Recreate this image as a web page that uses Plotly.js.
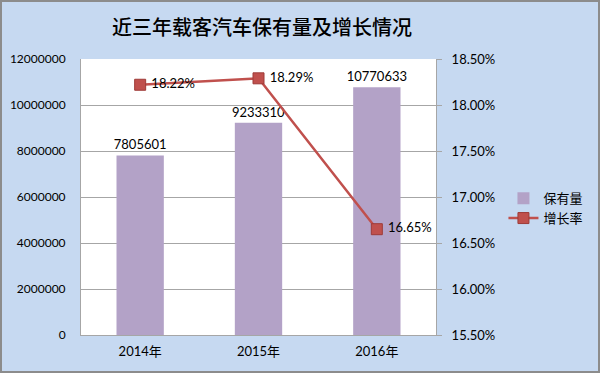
<!DOCTYPE html>
<html><head><meta charset="utf-8">
<script src="https://cdn.plot.ly/plotly-3.0.1.min.js"></script>
<style>body{margin:0;padding:0;} #wrap{position:relative;width:600px;height:373px;} #chart{width:600px;height:373px;} #border{position:absolute;left:0;top:0;width:596px;height:369px;border:2px solid #8c8c8c;pointer-events:none;}</style>
</head><body>
<div id="wrap"><div id="chart"></div><div id="border"></div></div>
<script>
const categories = ['2014年', '2015年', '2016年'];
const holdings = [7805601, 9233310, 10770633];
const growthRate = [18.22, 18.29, 16.65];
const leftTicks = [0, 2000000, 4000000, 6000000, 8000000, 10000000, 12000000];
const rightTicks = [15.5, 16.0, 16.5, 17.0, 17.5, 18.0, 18.5];

const fontFam = 'Lato, "Noto Sans CJK SC", sans-serif';
const bar = {
  type: 'bar', name: '保有量', x: categories, y: holdings,
  marker: {color: '#b3a2c7'}, width: 0.4,
  text: holdings.map(String), textposition: 'outside', cliponaxis: false, constraintext: 'none',
  textfont: {family: fontFam, size: 13, color: '#000'}
};
const line = {
  type: 'scatter', mode: 'lines+markers+text', name: '增长率', x: categories, y: growthRate, yaxis: 'y2',
  line: {color: '#c0504d', width: 2.5},
  marker: {symbol: 'square', size: 11, color: '#c0504d', line: {color: '#9e3b38', width: 1}},
  text: growthRate.map(v => ' ' + v.toFixed(2) + '%'), textposition: 'middle right',
  textfont: {family: fontFam, size: 13, color: '#000'}, cliponaxis: false
};
const layout = {
  width: 600, height: 373,
  margin: {l: 81, r: 159, t: 59, b: 38},
  paper_bgcolor: '#c6d9f1', plot_bgcolor: '#ffffff',
  font: {family: fontFam, size: 12, color: '#000'},
  title: {text: '近三年载客汽车保有量及增长情况', font: {family: '"Noto Sans CJK SC", sans-serif', size: 20, color: '#000', weight: 500}, x: 262/600, xanchor: 'center', y: 0.925, yanchor: 'middle'},
  showlegend: true,
  legend: {x: 1.19, y: 0.55, xanchor: 'left', yanchor: 'top', bgcolor: 'rgba(0,0,0,0)', font: {family: '"Noto Sans CJK SC", sans-serif', size: 13}, tracegroupgap: 16, itemwidth: 30},
  xaxis: {showgrid: false, showline: true, linecolor: '#a6a6a6', ticks: '', ticklabelstandoff: 4, tickfont: {size: 13, family: fontFam}, fixedrange: true},
  yaxis: {range: [0, 12000000], tickvals: leftTicks, ticktext: leftTicks.map(String), showgrid: true, gridcolor: '#a6a6a6', showline: true, linecolor: '#a6a6a6', ticks: '', ticklabelstandoff: 12, zeroline: false, tickfont: {size: 12, family: fontFam}},
  yaxis2: {overlaying: 'y', side: 'right', range: [15.5, 18.5], tickvals: rightTicks, ticktext: rightTicks.map(v => v.toFixed(2) + '%'), showgrid: false, showline: true, linecolor: '#a6a6a6', ticks: 'outside', ticklen: 5, tickcolor: '#a6a6a6', ticklabelstandoff: 7, zeroline: false, tickfont: {size: 13, family: fontFam}}
};
Plotly.newPlot('chart', [bar, line], layout, {displayModeBar: false, staticPlot: true});
</script>
</body></html>
